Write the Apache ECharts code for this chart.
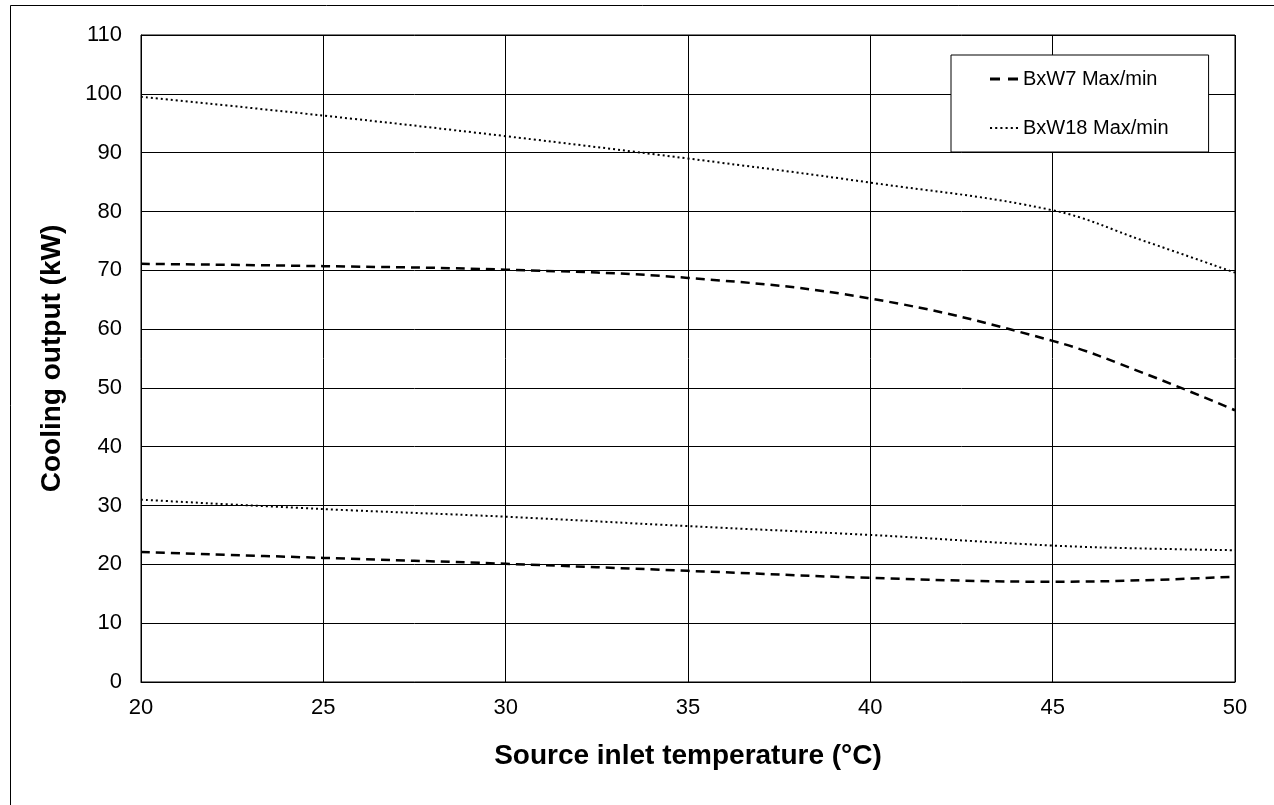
<!DOCTYPE html>
<html>
<head>
<meta charset="utf-8">
<script src="https://cdn.jsdelivr.net/npm/echarts@6/dist/echarts.min.js"></script>
<style>
html, body { margin: 0; padding: 0; background: #fff; }
#main { width: 1274px; height: 805px; }
</style>
</head>
<body>
<div id="main"></div>
<script>
// source inlet temperature (°C)
var temps = [20, 25, 30, 35, 40, 45, 47.5, 50];
var w7Max = [71.1, 70.7, 70.1, 68.7, 65.2, 58.0, 52.5, 46.2];
var w7Min = [22.1, 21.1, 20.1, 18.9, 17.7, 17.05, 17.3, 17.9];
var w18Max = [99.5, 96.3, 92.8, 89.0, 84.9, 80.2, 75.0, 69.6];
var w18Min = [31.0, 29.4, 28.1, 26.5, 25.0, 23.2, 22.7, 22.4];
var seriesNames = ['BxW7 Max/min', 'BxW18 Max/min'];

function pairs(ys) {
    return temps.map(function (t, i) { return [t, ys[i]]; });
}

var chart = echarts.init(document.getElementById('main'), null, { renderer: 'canvas' });
var font = '"Liberation Sans", Arial, sans-serif';

var dashed = { color: '#000', width: 2.5, type: [9, 6] };
var dotted = { color: '#000', width: 2, type: [2, 3] };

// legend icons drawn as little dash / dot paths
var dashIcon = 'path://M0,0h10v3h-10zM18,0h10v3h-10z';
var dotIcon = 'path://M0,0h2v2h-2zM5,0h2v2h-2zM10,0h2v2h-2zM15,0h2v2h-2zM20,0h2v2h-2zM25,0h2v2h-2z';

var option = {
    backgroundColor: '#fff',
    animation: false,
    textStyle: { fontFamily: font },
    graphic: [{
        type: 'rect',
        shape: { x: 10.5, y: 5.5, width: 1300, height: 900 },
        style: { fill: 'none', stroke: '#000', lineWidth: 1 },
        silent: true
    }],
    grid: {
        left: 141, right: 39, top: 35, bottom: 123,
        show: true, borderColor: '#000', borderWidth: 1
    },
    legend: {
        orient: 'vertical',
        left: 951, top: 55,
        padding: [14, 40, 14, 39],
        itemGap: 29,
        itemWidth: 28, itemHeight: 3,
        backgroundColor: '#fff',
        borderColor: '#000', borderWidth: 1,
        itemStyle: { color: '#000', borderWidth: 0 },
        textStyle: { fontFamily: font, fontSize: 20, color: '#000' },
        data: [
            { name: seriesNames[0], icon: dashIcon },
            { name: seriesNames[1], icon: dotIcon }
        ]
    },
    xAxis: {
        type: 'value',
        min: 20, max: 50, interval: 5,
        name: 'Source inlet temperature (°C)',
        nameLocation: 'middle',
        nameGap: 60,
        nameTextStyle: { fontFamily: font, fontSize: 28, fontWeight: 'bold', color: '#000' },
        axisLine: { lineStyle: { color: '#000' } },
        axisTick: { show: false },
        axisLabel: { fontFamily: font, fontSize: 22, color: '#000', margin: 15 },
        splitLine: { lineStyle: { color: '#000', width: 1 } }
    },
    yAxis: {
        type: 'value',
        min: 0, max: 110, interval: 10,
        name: 'Cooling output (kW)',
        nameLocation: 'middle',
        nameGap: 75,
        nameTextStyle: { fontFamily: font, fontSize: 28, fontWeight: 'bold', color: '#000' },
        axisLine: { show: true, lineStyle: { color: '#000' } },
        axisTick: { show: false },
        axisLabel: { fontFamily: font, fontSize: 22, color: '#000', margin: 19 },
        splitLine: { lineStyle: { color: '#000', width: 1 } }
    },
    series: [
        { name: seriesNames[0], type: 'line', smooth: 0.4, symbol: 'none', lineStyle: dashed, itemStyle: { color: '#000' }, data: pairs(w7Max) },
        { name: seriesNames[0], type: 'line', smooth: 0.4, symbol: 'none', lineStyle: dashed, itemStyle: { color: '#000' }, data: pairs(w7Min) },
        { name: seriesNames[1], type: 'line', smooth: 0.4, symbol: 'none', lineStyle: dotted, itemStyle: { color: '#000' }, data: pairs(w18Max) },
        { name: seriesNames[1], type: 'line', smooth: 0.4, symbol: 'none', lineStyle: dotted, itemStyle: { color: '#000' }, data: pairs(w18Min) }
    ]
};

chart.setOption(option);
</script>
</body>
</html>
